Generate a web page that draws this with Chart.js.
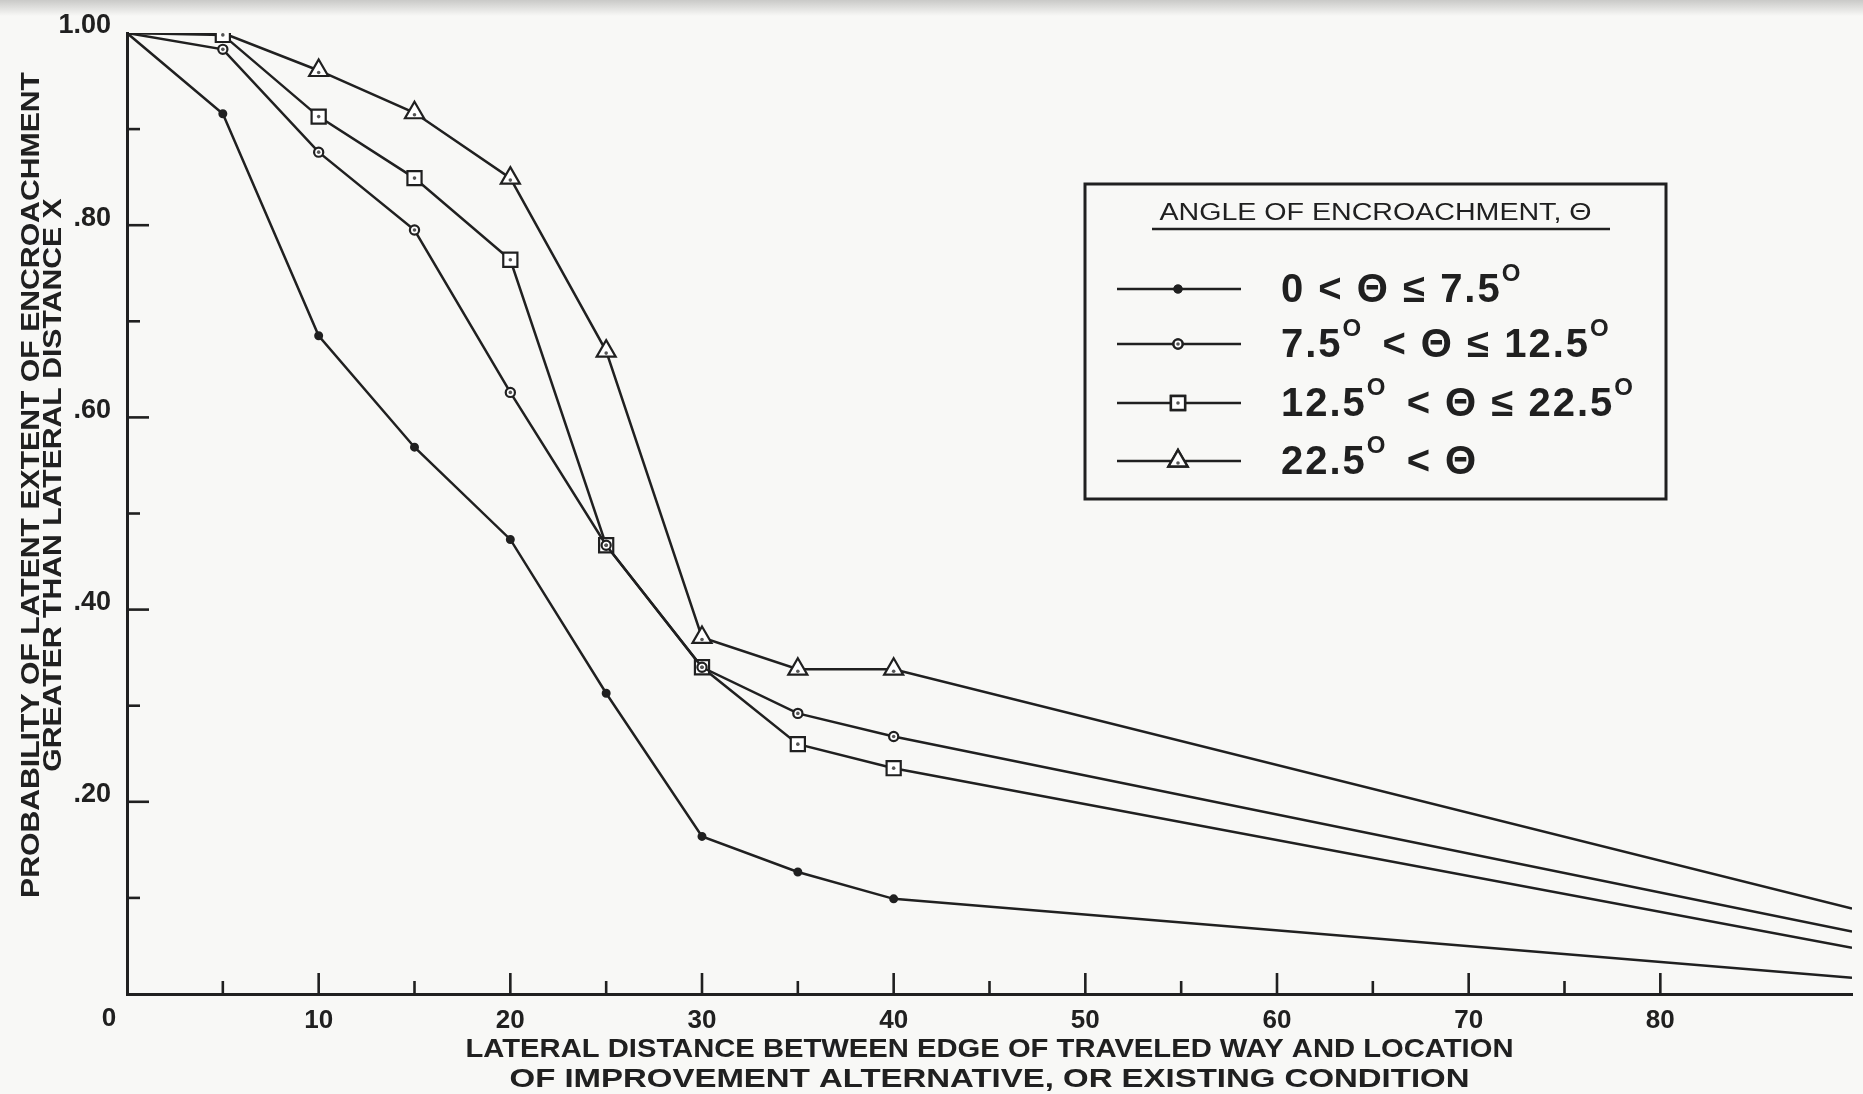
<!DOCTYPE html>
<html>
<head>
<meta charset="utf-8">
<script src="https://cdn.jsdelivr.net/npm/chart.js@4.4.0/dist/chart.umd.min.js"></script>
<style>
    html, body { margin: 0; padding: 0; background: #f8f8f6; }
    #wrap { position: relative; width: 1863px; height: 1094px; }
</style>
</head>
<body>
<div id="wrap"><canvas id="encroachChart"></canvas></div>
<script>
//////////////////////* Data *////////////////////////////
// lateral distance X (ft)
let lateralDistance = [0, 5, 10, 15, 20, 25, 30, 35, 40, 90];

let angleLabels = [
    "0 < Θ ≤ 7.5°",
    "7.5° < Θ ≤ 12.5°",
    "12.5° < Θ ≤ 22.5°",
    "22.5° < Θ",
];

// probability of latent extent of encroachment greater than X
let probAngle0to7 = [1.0, 0.916, 0.685, 0.569, 0.473, 0.313, 0.164, 0.127, 0.099, 0.017];
let probAngle7to12 = [1.0, 0.983, 0.876, 0.795, 0.626, 0.467, 0.340, 0.292, 0.268, 0.065];
let probAngle12to22 = [1.0, 0.998, 0.913, 0.849, 0.764, 0.467, 0.340, 0.260, 0.235, 0.048];
let probAngleOver22 = [1.0, 1.0, 0.961, 0.917, 0.849, 0.669, 0.371, 0.338, 0.338, 0.089];

// tick labels
let xTickValues = [0, 10, 20, 30, 40, 50, 60, 70, 80];
let xTickLabels = ["0", "10", "20", "30", "40", "50", "60", "70", "80"];
let yTickValues = [0.2, 0.4, 0.6, 0.8, 1.0];
let yTickLabels = [".20", ".40", ".60", ".80", "1.00"];

let xTitleLines = [
    "LATERAL DISTANCE BETWEEN EDGE OF TRAVELED WAY AND LOCATION",
    "OF IMPROVEMENT ALTERNATIVE, OR EXISTING CONDITION",
];
let yTitleLines = [
    "PROBABILITY OF LATENT EXTENT OF ENCROACHMENT",
    "GREATER THAN LATERAL DISTANCE X",
];
let legendTitle = "ANGLE OF ENCROACHMENT, Θ";

//////////////////////* Styles *////////////////////////////
let inkColor = "#202020";
let paperColor = "#f8f8f6";
let mainFont = "'Liberation Sans', Arial, sans-serif";

function toPoints(values) {
    return lateralDistance.map((x, i) => ({ x: x, y: values[i] }));
}

// no marker at the origin, the far end, or (for triangles) on the shared 1.00 point at x=5
function markerRadius(size, skip) {
    return function (ctx) {
        let i = ctx.dataIndex;
        if (i === 0 || i === lateralDistance.length - 1) return 0;
        if (skip && skip.indexOf(i) >= 0) return 0;
        return size;
    };
}

function lineDataset(label, values, style, size, fill, skip, centerDot) {
    return {
        label: label,
        data: toPoints(values),
        borderColor: inkColor,
        borderWidth: 2.5,
        pointStyle: style,
        pointRadius: markerRadius(size, skip),
        pointHoverRadius: markerRadius(size, skip),
        pointBackgroundColor: fill,
        pointBorderColor: inkColor,
        pointBorderWidth: 2.2,
        tension: 0,
        centerDot: centerDot,
        markerSize: size,
    };
}

// draws centred text stretched sideways to a given width (the scan's type is wide)
function stretchText(c, text, x, y, font, width, scaleFrom) {
    c.font = font;
    let sx = width / c.measureText(scaleFrom || text).width;
    c.save();
    c.translate(x, y);
    c.scale(sx, 1);
    c.fillText(text, 0, 0);
    c.restore();
}

//////////////////////* Plugins *////////////////////////////
let paperPlugin = {
    id: "paper",
    beforeDraw(chart) {
        let c = chart.ctx;
        c.save();
        c.fillStyle = paperColor;
        c.fillRect(0, 0, chart.width, chart.height);
        let g = c.createLinearGradient(0, 0, 0, 16);
        g.addColorStop(0, "rgba(190,190,188,0.8)");
        g.addColorStop(1, "rgba(190,190,188,0)");
        c.fillStyle = g;
        c.fillRect(0, 0, chart.width, 16);
        c.restore();
    },
};

let centerDotPlugin = {
    id: "centerDot",
    afterDatasetsDraw(chart) {
        let c = chart.ctx;
        c.save();
        chart.data.datasets.forEach((ds, di) => {
            if (!ds.centerDot) return;
            chart.getDatasetMeta(di).data.forEach((pt) => {
                if (!pt.options.radius) return;
                c.beginPath();
                c.fillStyle = "#555";
                c.arc(pt.x, pt.y + (ds.pointStyle === "triangle" ? 2 : 0), 1.8, 0, Math.PI * 2);
                c.fill();
            });
        });
        c.restore();
    },
};

// inward tick marks, axis titles and the boxed legend
let frameworkPlugin = {
    id: "framework",
    afterDraw(chart) {
        let c = chart.ctx;
        let area = chart.chartArea;
        let xs = chart.scales.x;
        let ys = chart.scales.y;
        c.save();
        c.strokeStyle = inkColor;
        c.lineWidth = 2.6;

        for (let k = 1; k <= 9; k++) {
            let y = ys.getPixelForValue(k / 10);
            let len = k % 2 === 0 ? 22 : 13;
            c.beginPath();
            c.moveTo(area.left, y);
            c.lineTo(area.left + len, y);
            c.stroke();
        }
        for (let k = 1; k <= 16; k++) {
            let x = xs.getPixelForValue(k * 5);
            let len = k % 2 === 0 ? 21 : 13;
            c.beginPath();
            c.moveTo(x, area.bottom);
            c.lineTo(x, area.bottom - len);
            c.stroke();
        }

        // "0" sits left of the corner
        c.fillStyle = inkColor;
        c.font = "bold 26px " + mainFont;
        c.textAlign = "center";
        c.textBaseline = "middle";
        c.fillText(xTickLabels[0], xs.getPixelForValue(0) - 18, area.bottom + 25);

        // x title
        let cx = (area.left + area.right) / 2;
        let xFont = "bold 26px " + mainFont;
        stretchText(c, xTitleLines[0], cx, 1050, xFont, 1048);
        stretchText(c, xTitleLines[1], cx, 1080, xFont, 960);

        // y title
        c.save();
        c.translate(0, 485);
        c.rotate(-Math.PI / 2);
        let yFont = "bold 26px " + mainFont;
        stretchText(c, yTitleLines[0], 0, 32, yFont, 826);
        stretchText(c, yTitleLines[1], 0, 54, yFont, 826, yTitleLines[0]);
        c.restore();

        drawLegend(chart);
        c.restore();
    },
};

function drawSupText(c, text, x, y, size) {
    // draws text with each ° as a raised capital O
    let parts = text.split("°");
    c.letterSpacing = "2px";
    parts.forEach((part, i) => {
        c.font = "bold " + size + "px " + mainFont;
        c.fillText(part, x, y);
        x += c.measureText(part).width;
        if (i < parts.length - 1) {
            c.font = "bold " + Math.round(size * 0.6) + "px " + mainFont;
            c.fillText("O", x, y - size * 0.42);
            x += c.measureText("O").width + 6;
        }
    });
    c.letterSpacing = "0px";
}

function drawLegend(chart) {
    let c = chart.ctx;
    let bx = 1085, by = 184, bw = 581, bh = 315;
    c.save();
    c.fillStyle = paperColor;
    c.fillRect(bx, by, bw, bh);
    c.strokeStyle = inkColor;
    c.lineWidth = 3;
    c.strokeRect(bx, by, bw, bh);

    c.fillStyle = inkColor;
    c.textAlign = "center";
    c.textBaseline = "alphabetic";
    stretchText(c, legendTitle, bx + bw / 2, 220, "23px " + mainFont, 432);
    c.lineWidth = 2.5;
    c.beginPath();
    c.moveTo(1152, 229);
    c.lineTo(1610, 229);
    c.stroke();

    let rowY = [289, 344, 403, 461];
    c.textAlign = "left";
    c.textBaseline = "middle";
    chart.data.datasets.forEach((ds, i) => {
        let y = rowY[i];
        c.lineWidth = 2.4;
        c.beginPath();
        c.moveTo(1117, y);
        c.lineTo(1241, y);
        c.stroke();
        Chart.helpers.drawPoint(c, {
            pointStyle: ds.pointStyle,
            radius: ds.markerSize,
            borderWidth: 2.2,
            rotation: 0,
        }, 1178, y);
        c.fillStyle = ds.pointBackgroundColor;
        c.fill();
        c.stroke();
        if (ds.centerDot) {
            c.beginPath();
            c.fillStyle = "#555";
            c.arc(1178, y + (ds.pointStyle === "triangle" ? 2 : 0), 1.8, 0, Math.PI * 2);
            c.fill();
        }
        c.fillStyle = inkColor;
        drawSupText(c, ds.label, 1281, y + 2, 40);
    });
    c.restore();
}

//////////////////////* Chart *////////////////////////////
function encroachmentChart() {
    let ctx = document.getElementById("encroachChart");
    let data = {
        datasets: [
            lineDataset(angleLabels[0], probAngle0to7, "circle", 3.4, inkColor, null, false),
            lineDataset(angleLabels[1], probAngle7to12, "circle", 4.6, "#ffffff", null, true),
            lineDataset(angleLabels[2], probAngle12to22, "rect", 10, "#ffffff", null, true),
            lineDataset(angleLabels[3], probAngleOver22, "triangle", 11, "#ffffff", [1], true),
        ],
    };
    let config = {
        type: "line",
        data: data,
        options: {
            responsive: true,
            maintainAspectRatio: false,
            animation: false,
            layout: {
                padding: { top: 33, right: 3, left: 0, bottom: 0 },
            },
            plugins: {
                legend: { display: false },
                tooltip: { enabled: false },
            },
            scales: {
                x: {
                    type: "linear",
                    min: 0,
                    max: 90,
                    afterFit: function (scale) { scale.height = 100; },
                    ticks: {
                        stepSize: 5,
                        autoSkip: false,
                        maxRotation: 0,
                        padding: 11,
                        color: inkColor,
                        font: { family: mainFont, weight: "bold", size: 26 },
                        callback: function (value) {
                            let idx = xTickValues.indexOf(value);
                            return idx > 0 ? xTickLabels[idx] : "";
                        },
                    },
                    grid: { display: false, drawTicks: false },
                    border: { display: true, color: inkColor, width: 3 },
                },
                y: {
                    min: 0,
                    max: 1,
                    afterFit: function (scale) { scale.width = 127; },
                    ticks: {
                        stepSize: 0.1,
                        autoSkip: false,
                        padding: 16,
                        labelOffset: -7,
                        color: inkColor,
                        font: { family: mainFont, weight: "bold", size: 27 },
                        callback: function (value) {
                            let idx = yTickValues.findIndex((v) => Math.abs(v - value) < 1e-6);
                            return idx >= 0 ? yTickLabels[idx] : "";
                        },
                    },
                    grid: { display: false, drawTicks: false },
                    border: { display: true, color: inkColor, width: 3 },
                },
            },
        },
        plugins: [paperPlugin, centerDotPlugin, frameworkPlugin],
    };
    let chart = new Chart(ctx, config);
}

encroachmentChart();
</script>
</body>
</html>
